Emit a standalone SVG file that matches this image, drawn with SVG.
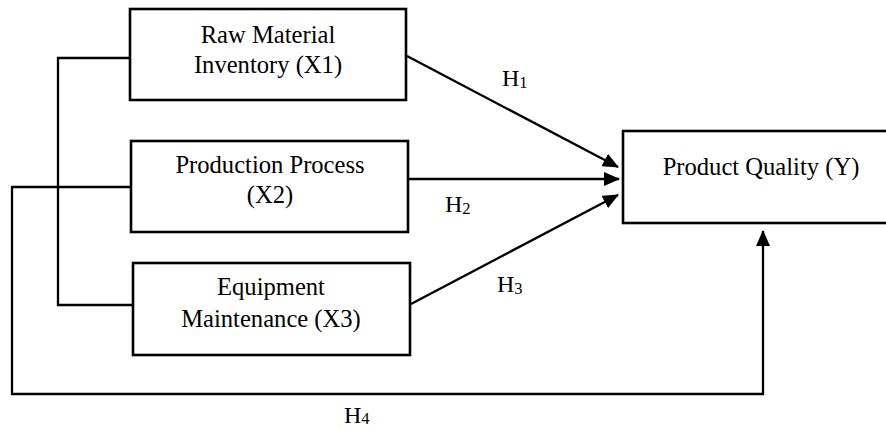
<svg xmlns="http://www.w3.org/2000/svg" width="886" height="429" viewBox="0 0 886 429">
<style>
.box{fill:#fff;stroke:#000;stroke-width:2.6}
.ln{fill:none;stroke:#000;stroke-width:2.3}
.t{font-family:"Liberation Serif","Times New Roman",serif;font-size:24.6px;fill:#000;text-anchor:middle}
.h{font-family:"Liberation Serif","Times New Roman",serif;font-size:24px;fill:#000}
.sub{font-size:16.5px}
</style>
<defs>
<marker id="ah" markerUnits="userSpaceOnUse" markerWidth="16" markerHeight="14" refX="15" refY="7" orient="auto">
<path d="M0,0 L16,7 L0,14 Z" fill="#000"/>
</marker>
</defs>
<rect width="886" height="429" fill="#fff"/>
<g id="connectors">
<polyline class="ln" points="130,58 58,58 58,305 133,305"/>
<polyline class="ln" points="131,187 12,187 12,394 763,394 763,231" marker-end="url(#ah)"/>
<line class="ln" x1="407" y1="56" x2="618" y2="167" marker-end="url(#ah)"/>
<line class="ln" x1="409" y1="179" x2="619" y2="179" marker-end="url(#ah)"/>
<line class="ln" x1="411" y1="304" x2="618" y2="195" marker-end="url(#ah)"/>
<text class="h" x="502" y="86">H<tspan class="sub" dy="2">1</tspan></text>
<text class="h" x="445" y="212">H<tspan class="sub" dy="2">2</tspan></text>
<text class="h" x="497" y="292">H<tspan class="sub" dy="2">3</tspan></text>
<text class="h" x="344" y="423">H<tspan class="sub" dy="1">4</tspan></text>
</g>
<g id="x1">
<rect class="box" x="130" y="9" width="276" height="91"/>
<text class="t" x="268" y="43">Raw Material</text>
<text class="t" x="268" y="73">Inventory (X1)</text>
</g>
<g id="x2">
<rect class="box" x="131" y="141" width="277" height="91"/>
<text class="t" x="270" y="173">Production Process</text>
<text class="t" x="270" y="203">(X2)</text>
</g>
<g id="x3">
<rect class="box" x="133" y="263" width="277" height="92"/>
<text class="t" x="271" y="295">Equipment</text>
<text class="t" x="271" y="327">Maintenance (X3)</text>
</g>
<g id="y">
<rect class="box" x="623" y="131" width="280" height="92"/>
<text class="t" x="761" y="175">Product Quality (Y)</text>
</g>
</svg>
